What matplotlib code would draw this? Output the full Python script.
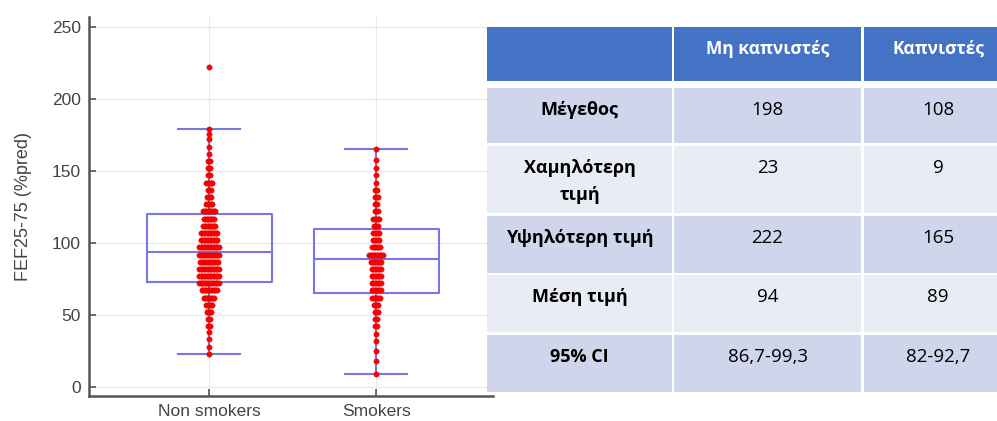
import numpy as np
import matplotlib
matplotlib.use("Agg")
from matplotlib import pyplot as plt
from matplotlib.patches import Rectangle

plt.rcParams['font.family'] = ['Liberation Sans', 'DejaVu Sans']

# --- data ---
groups = ["Non smokers", "Smokers"]

# dot values (binned estimates) and how many dots sit at each value
nonsmoker_vals = [23, 28, 33, 38, 42, 47, 52, 57, 62, 67, 72, 77, 82, 87, 92, 97,
                  102, 107, 112, 117, 122, 127, 132, 137, 142, 147, 152, 157, 162,
                  167, 172, 176, 179, 222]
nonsmoker_counts = [1, 1, 1, 1, 2, 2, 4, 5, 8, 11, 14, 14, 14, 13, 14, 14,
                    12, 12, 9, 8, 9, 5, 4, 3, 5, 2, 2, 2, 1,
                    1, 1, 1, 1, 1]
smoker_vals = [9, 18, 25, 32, 37, 42, 47, 52, 57, 62, 67, 72, 77, 82, 87, 92,
               97, 102, 107, 112, 117, 122, 127, 132, 137, 142, 147, 152, 158, 165]
smoker_counts = [1, 1, 1, 1, 1, 2, 2, 3, 4, 6, 7, 7, 7, 7, 8, 10,
                 6, 5, 5, 4, 5, 3, 2, 3, 2, 1, 1, 1, 1, 1]

# box statistics
q1 = [73, 65]
medians = [94, 89]
q3 = [120, 110]
whisk_lo = [23, 9]
whisk_hi = [179, 165]

# table
col_headers = ["", "Μη καπνιστές", "Καπνιστές"]
row_labels = ["Μέγεθος", "Χαμηλότερη\nτιμή", "Υψηλότερη τιμή", "Μέση τιμή", "95% CI"]
col_nonsmokers = ["198", "23", "222", "94", "86,7-99,3"]
col_smokers = ["108", "9", "165", "89", "82-92,7"]

# --- figure ---
W, H = 997, 421
fig = plt.figure(figsize=(W / 100, H / 100), dpi=100)
ax = fig.add_axes([89 / W, 1 - 396 / H, (493 - 89) / W, (396 - 17) / H])

box_col = "#7878e4"
stats = []
for i in range(2):
    stats.append(dict(q1=q1[i], med=medians[i], q3=q3[i],
                      whislo=whisk_lo[i], whishi=whisk_hi[i], fliers=[]))
ax.bxp(stats, positions=[1, 2], widths=0.75, showfliers=False, capwidths=0.37,
       boxprops=dict(color=box_col, lw=1.5),
       medianprops=dict(color=box_col, lw=1.5),
       whiskerprops=dict(color=box_col, lw=1.5),
       capprops=dict(color=box_col, lw=1.5), zorder=2)

# dots spread sideways where values repeat
dx = 0.009
for pos, vals, cnts in [(1, nonsmoker_vals, nonsmoker_counts), (2, smoker_vals, smoker_counts)]:
    xs, ys = [], []
    for v, n in zip(vals, cnts):
        for k in range(n):
            xs.append(pos + (k - (n - 1) / 2) * dx)
            ys.append(v)
    ax.scatter(xs, ys, s=15, color="#ff0000", edgecolors="#e00000", linewidths=0.3, zorder=3)

ax.set_xlim(0.28, 2.70)
ax.set_ylim(-6.3, 257)
ax.set_yticks([0, 50, 100, 150, 200, 250])
ax.set_xticks([1, 2])
ax.set_xticklabels(groups)
ax.grid(True, color="#e9e9e9", lw=0.8, zorder=0)
ax.set_axisbelow(True)
for s in ["top", "right"]:
    ax.spines[s].set_visible(False)
for s in ["left", "bottom"]:
    ax.spines[s].set_color("#555555")
    ax.spines[s].set_linewidth(1.8)
ax.tick_params(direction="in", length=5, width=1.2, color="#555555",
               labelcolor="#444444", labelsize=12.5)
ax.tick_params(axis="y", pad=6)
ax.tick_params(axis="x", pad=6)
ax.set_ylabel("FEF25-75 (%pred)", color="#444444", fontsize=13, labelpad=14)

# --- table on the right, drawn in pixel coordinates ---
tab = fig.add_axes([0, 0, 1, 1])
tab.set_xlim(0, W)
tab.set_ylim(H, 0)
tab.axis("off")

col_edges = [(487, 672), (674, 861), (864, 997)]
row_edges = [(27, 81), (88, 143), (146, 213), (216, 273), (275, 332), (335, 392)]
header_col = "#4472c4"
band_dark = "#cfd5ea"
band_light = "#e9ebf5"
tfont = ['Open Sans', 'DejaVu Sans']

cells = [col_headers] + [[row_labels[i], col_nonsmokers[i], col_smokers[i]] for i in range(len(row_labels))]
for r, (top, bot) in enumerate(row_edges):
    if r == 0:
        fc = header_col
    elif r % 2 == 1:
        fc = band_dark
    else:
        fc = band_light
    for c, (left, right) in enumerate(col_edges):
        tab.add_patch(Rectangle((left, top), right - left, bot - top, facecolor=fc, edgecolor="none"))
        txt = cells[r][c]
        if not txt:
            continue
        bold = (r == 0) or (c == 0)
        color = "white" if r == 0 else "black"
        if r == 0:
            size = 12.5
        elif c == 0:
            size = 13
        else:
            size = 13.5
        cx = (left + right) / 2
        if c == 2:
            cx = left + 74
        for i, line in enumerate(txt.split("\n")):
            tab.text(cx, top + 22 + i * 27, line, ha="center", va="center", fontsize=size,
                     fontweight="bold" if bold else "normal", color=color, family=tfont)

fig.savefig("out.png", dpi=100)
